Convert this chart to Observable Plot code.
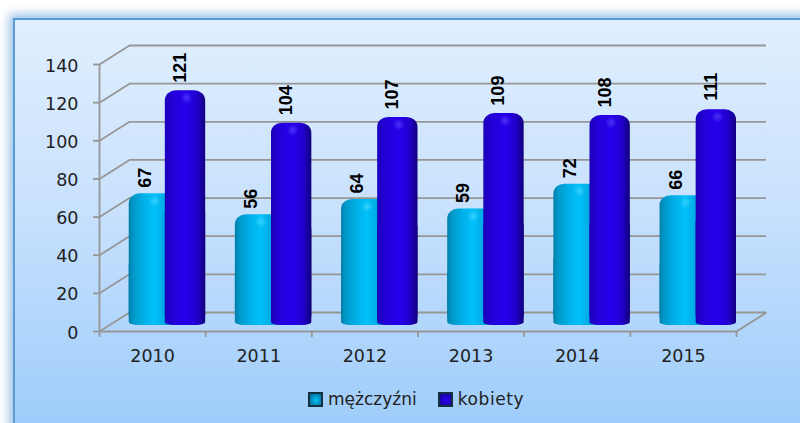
<!DOCTYPE html>
<html><head><meta charset="utf-8">
<script src="https://cdn.jsdelivr.net/npm/d3@7"></script>
<script src="https://cdn.jsdelivr.net/npm/@observablehq/plot@0.6"></script>
<style>
html,body{margin:0;padding:0;width:800px;height:423px;overflow:hidden;background:#fff;font-family:"DejaVu Sans",sans-serif}
#frame{position:absolute;left:13px;top:18px;width:900px;height:500px;box-sizing:border-box;border:2px solid #5b9bd5;
background:linear-gradient(#e0effe,#c8e1fd 38%,#9fcdfb 81%);box-shadow:0 0 9px 4px rgba(91,155,213,.6);z-index:0}
#chart{position:absolute;left:0;top:0;width:800px;height:375px;z-index:1}
#chart svg{display:block;width:800px;height:375px;max-width:none}
#legend{position:absolute;left:308px;top:388px;display:flex;align-items:center;font-size:17px;color:#222;line-height:22px;z-index:1}
#legend i{display:inline-block;width:11px;height:11px;border:2px solid #12303f;margin-right:5px}
#legend span{margin-right:21px}
#legend span:last-child{letter-spacing:.6px}
</style></head><body>
<div id="frame"></div>
<div id="chart"></div>
<div id="legend"></div>
<script>
const years = ["2010","2011","2012","2013","2014","2015"];
const men = [67,56,64,59,72,66];
const women = [121,104,107,109,108,111];
const yTicks = [0,20,40,60,80,100,120,140];
const seriesNames = ["mężczyźni","kobiety"];

const W = 800, H = 375;
const unitY = 267/140, unitX = 637/6;
const dX = 30/unitX, dY = 19/unitY, lift = 6;

const rowsOf = (vals,a,b) => vals.map((v,i)=>({i,v,x1:i+a,x2:i+b}));
const menRows = rowsOf(men,0.28,0.72);
const womenRows = rowsOf(women,0.62,1.0);

function gradient(id,stops){
  return `<linearGradient id="${id}" x1="0" x2="1" y1="0" y2="0">`+
    stops.map(([o,c])=>`<stop offset="${o}" stop-color="${c}"/>`).join("")+`</linearGradient>`;
}
function glow(id,color){
  return `<radialGradient id="${id}"><stop offset="0" stop-color="${color}" stop-opacity=".55"/><stop offset="1" stop-color="${color}" stop-opacity="0"/></radialGradient>`;
}
const defs = () => {
  const g = document.createElementNS("http://www.w3.org/2000/svg","defs");
  g.innerHTML = gradient("gm",[[0,"#007fa9"],[.1,"#0098ca"],[.35,"#00b2ea"],[.55,"#00c0fa"],[.8,"#00a8e0"],[1,"#0090c4"]])
    + gradient("gk",[[0,"#1c00b8"],[.2,"#2200d8"],[.55,"#2600ec"],[.8,"#2000cc"],[1,"#12007c"]])
    + glow("hm","#5fe0ff") + glow("hk","#6a5cff");
  return g;
};

const bars = (rows,fill,glowFill,cx) => [
  Plot.rect(rows,{x1:"x1",x2:"x2",y1:()=>0,y2:"v",dy:-lift,insetTop:-4,fill,rx:11,ry:10}),
  Plot.rect(rows,{x1:"x1",x2:"x2",y1:()=>0,y2:d=>d.v/2,dy:-lift,fill,rx:9,ry:3}),
  Plot.dot(rows,{x:d=>d.i+cx,y:"v",dy:-3,r:6,fill:glowFill})
];
const G = {stroke:"#969696",strokeWidth:1.8};
const labelStyle = {text:d=>String(d.v),rotate:-90,textAnchor:"middle",fontSize:18,fontWeight:"bold",fontFamily:"Liberation Sans",fill:"#000"};

const plot = Plot.plot({
  width:W,height:H,
  marginLeft:0,marginRight:0,marginTop:0,marginBottom:0,
  style:{background:"transparent",overflow:"visible"},
  x:{domain:[-99/unitX,(W-99)/unitX],range:[0,W],axis:null},
  y:{domain:[-(H-331)/unitY,331/unitY],range:[H,0],axis:null},
  r:{type:"identity"},
  marks:[
    defs,
    Plot.ruleY(yTicks,{y:d=>d+dY,x1:()=>dX,x2:()=>6+dX,...G}),
    Plot.link(yTicks,{x1:()=>0,y1:d=>d,x2:()=>dX,y2:d=>d+dY,...G}),
    Plot.link([0],{x1:()=>6,y1:()=>0,x2:()=>6+dX,y2:()=>dY,...G}),
    Plot.ruleX([0],{y1:()=>0,y2:()=>140,...G}),
    Plot.ruleY([0],{x1:()=>0,x2:()=>6,...G}),
    Plot.ruleY(yTicks,{y:d=>d,x1:()=>-6/unitX,x2:()=>0,...G}),
    Plot.ruleX(d3.range(7),{x:d=>d,y1:()=>-6/unitY,y2:()=>0,...G}),
    ...bars(menRows,"url(#gm)","url(#hm)",0.52),
    ...bars(womenRows,"url(#gk)","url(#hk)",0.82),
    Plot.text(yTicks,{x:()=>0,y:d=>d,text:d=>String(d),textAnchor:"end",dx:-21,dy:1.5,fontSize:17.5,fontFamily:"DejaVu Sans",fill:"#222"}),
    Plot.text(years,{x:(d,i)=>i+0.5,y:()=>0,text:d=>d,dy:25,fontSize:17.5,fontFamily:"DejaVu Sans",fill:"#222"}),
    Plot.text(menRows,{x:d=>d.i+0.43,y:"v",dy:-26,...labelStyle}),
    Plot.text(womenRows,{x:d=>d.i+0.76,y:"v",dy:-33,...labelStyle})
  ]
});
document.getElementById("chart").append(plot);

const legend = document.getElementById("legend");
const swatches = ["radial-gradient(circle at 55% 55%,#00c0fa,#00648c)","radial-gradient(circle at 55% 55%,#2a00f2,#14008c)"];
seriesNames.forEach((n,i)=>{
  const s=document.createElement("i"); s.style.background=swatches[i]; legend.append(s);
  const t=document.createElement("span"); t.textContent=n; legend.append(t);
});
</script>
</body></html>
